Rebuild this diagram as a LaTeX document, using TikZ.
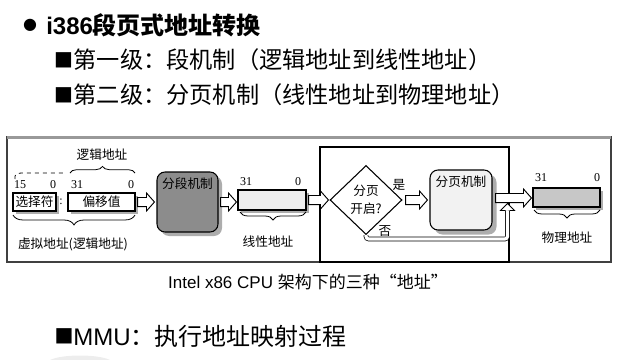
\documentclass[tikz,border=0pt]{standalone}
\usepackage{fontspec}
\setmainfont{Liberation Sans}
\newfontfamily\cjk{Noto Sans CJK SC}
\newfontfamily\symb{DejaVu Sans}
\newfontfamily\rmdig{Liberation Serif}
\usetikzlibrary{shapes.geometric,decorations.pathreplacing,calc,shadows}

\newcommand\setfs[1]{\fontsize{#1}{#1}\selectfont}

% hollow block arrow between two points (horizontal, at the height of the start point)
\newcommand\hollowarrow[2]{%
  \path[blockarrow] let \p1=(#1), \p2=(#2) in
    (\x1,\y1+3.4pt) -- (\x2-6pt,\y1+3.4pt) -- (\x2-6pt,\y1+6.75pt) -- (\x2,\y1)
    -- (\x2-6pt,\y1-6.75pt) -- (\x2-6pt,\y1-3.4pt) -- (\x1,\y1-3.4pt) -- cycle;}

\tikzset{
  box/.style={draw=black, line width=0.8pt, inner sep=0pt, font=\cjk\setfs{9.5pt}},
  lbl/.style={font=\cjk\setfs{9.5pt}, inner sep=0pt},
  dig/.style={font=\rmdig\setfs{9pt}, inner sep=0pt},
  sq/.style={font=\symb\setfs{15pt}, inner sep=0pt},
  heading/.style={anchor=west, inner sep=0pt},
  blockarrow/.style={draw=black, line width=0.7pt, fill=white, line join=miter},
  braceup/.style={decorate, decoration={brace, amplitude=#1}, line width=0.6pt},
  bracedown/.style={decorate, decoration={brace, amplitude=#1, mirror}, line width=0.6pt},
  shade/.style={drop shadow={shadow xshift=#1, shadow yshift=-#1, fill=black!32, opacity=1}},
}

\begin{document}
\begin{tikzpicture}[x=0.75pt, y=-0.75pt]
\useasboundingbox (0,0) rectangle (624,360);

% ---- headings ----
\node[font=\symb\setfs{12pt}, inner sep=0pt] (dot) at (30,25) {●};
\node[heading, font=\setfs{18pt}] (title) at (46,25) {\bfseries i386\cjk 段页式地址转换};
\node[sq] (sq1) at (63.5,60) {■};
\node[heading, font=\cjk\setfs{17.4pt}] (lv1) at (73.5,60) {第一级：段机制（逻辑地址到线性地址）};
\node[sq] (sq2) at (63.5,95) {■};
\node[heading, font=\cjk\setfs{17.4pt}] (lv2) at (73.5,95) {第二级：分页机制（线性地址到物理地址）};

% ---- frames ----
\draw[black!75, line width=0.8pt] (7,137) rectangle (611,262);
\draw[black!40, line width=1.6pt] (7,137.5) -- (611,137.5);
\draw[black, line width=0.8pt] (320,147) rectangle (509,262);

% ---- logical address ----
\node[box, fill=white, minimum width=32.25pt, minimum height=13.5pt, shade=2pt] (sel) at (34.5,202) {选择符};
\node[dig] (colon) at (61,202) {:};
\node[box, fill=white, minimum width=50.25pt, minimum height=13.5pt, shade=2pt] (off) at (101.5,202) {偏移值};
\node[dig] (s15) at (20,185) {15};
\node[dig] (s0) at (53,185) {0};
\node[dig] (o31) at (77,185) {31};
\node[dig] (o0) at (131,185) {0};
\draw[braceup=5pt] (70,173) -- (135,173);
\draw[dashed, line width=0.6pt] (15,179) .. controls (15,174) .. (21,173) -- (66,173);
\node[lbl] (logic) at (102,155) {逻辑地址};
\draw[bracedown=7.5pt] (13,215) -- (135,215);
\node[lbl] (virt) at (73,244) {虚拟地址(逻辑地址)};

% ---- segmentation ----
\node[box, fill=black!45, rounded corners=6pt, minimum width=45.75pt, minimum height=45pt, shade=3pt] (seg) at (187.5,202) {};
\node[lbl] (segl) at ([yshift=-9.5pt]seg.north) {分段机制};

% ---- linear address ----
\node[box, fill=black!7, minimum width=51pt, minimum height=15pt, shade=2.2pt] (lin) at (272,200) {};
\node[dig] (l31) at (246,182) {31};
\node[dig] (l0) at (298,182) {0};
\draw[bracedown=6pt] (240,212) -- (306,212);
\node[lbl] (linl) at (268,242) {线性地址};

% ---- paging decision ----
\node[draw=black, line width=0.8pt, diamond, aspect=1.04, minimum width=54pt, minimum height=51.75pt,
      inner sep=0pt, align=center, font=\cjk\setfs{9.5pt}] (dia) at (366,200) {分页\\[4pt]开启?};
\node[lbl] (yes) at (399,185) {是};
\node[lbl] (no) at (385,231) {否};

\node[box, fill=black!5, rounded corners=6pt, minimum width=46.5pt, minimum height=45pt, shade=3.4pt] (pg) at (461,200) {};
\node[lbl] (pgl) at ([yshift=-9.5pt]pg.north) {分页机制};

% ---- physical address ----
\node[box, fill=black!22, minimum width=50.25pt, minimum height=14.25pt, shade=2.5pt] (phys) at (566.5,197.5) {};
\node[dig] (p31) at (541,178) {31};
\node[dig] (p0) at (597,178) {0};
\draw[bracedown=6pt] (534,210) -- (600,210);
\node[lbl] (phyl) at (567,238) {物理地址};

% ---- block arrows ----
\hollowarrow{$(off.east)+(2,0)$}{$(seg.west)+(-2,0)$}
\hollowarrow{$(seg.east)+(2,0)$}{$(lin.west)+(-1,0)$}
\hollowarrow{$(lin.east)+(2,0)$}{$(dia.west)+(-1,0)$}
\hollowarrow{$(dia.east)+(3,0)$}{$(pg.west)+(-2,0)$}
\hollowarrow{$(pg.east)+(3,-2)$}{$(phys.west)+(-1,0)$}

% ---- bypass when paging is off ----
\coordinate (nocorner) at (507.5,239);
\coordinate (noend) at (507.5,210.5);
\draw[double=white, double distance=2.4pt, line width=0.55pt, rounded corners=2pt]
  (dia.south) |- (nocorner) -- (noend);
\path[blockarrow] ($(noend)+(-2,0)$) -- ++(-5,0) -- ($(noend)+(0,-7)$) -- ++(7,7) -- ++(-5,0);

% ---- caption and last point ----
\node[font=\setfs{12.75pt}, inner sep=0pt] (cap) at (308,282) {Intel x86 CPU {\cjk 架构下的三种“地址”}};
\node[sq] (sq3) at (64,336) {■};
\node[heading, font=\setfs{18pt}] (mmu) at (73,336) {MMU\cjk：执行地址映射过程};

\fill[black!7] (50,360) .. controls (62,354) and (98,354) .. (110,360) -- cycle;
\end{tikzpicture}
\end{document}
